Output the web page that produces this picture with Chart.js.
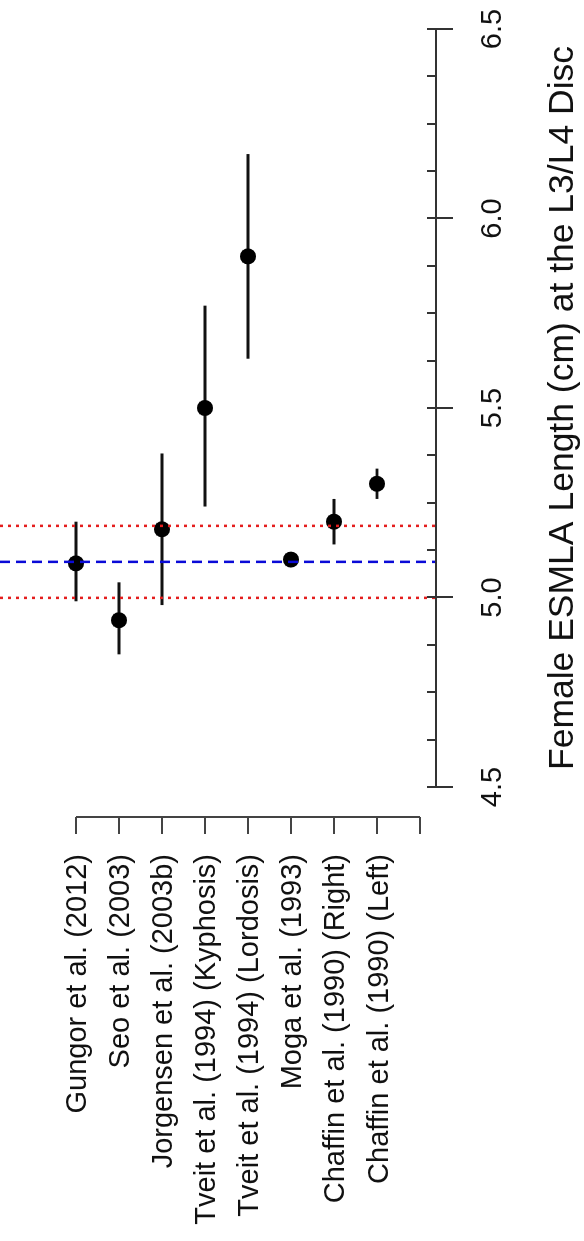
<!DOCTYPE html>
<html>
<head>
<meta charset="utf-8">
<script src="https://cdn.jsdelivr.net/npm/chart.js@4/dist/chart.umd.min.js"></script>
<style>
  html, body { margin: 0; padding: 0; background: #ffffff; overflow: hidden; }
  #wrap { position: relative; width: 584px; height: 1241px; overflow: hidden; background: #ffffff; }
  #c { position: absolute; left: 0; top: 0; width: 1241px; height: 584px;
       transform-origin: 0 0; transform: translate(0px, 1241px) rotate(-90deg); }
</style>
</head>
<body>
<div id="wrap"><canvas id="c" width="1241" height="584"></canvas></div>
<script>
// ---- data ----
const studies = [
  'Gungor et al. (2012)',
  'Seo et al. (2003)',
  'Jorgensen et al. (2003b)',
  'Tveit et al. (1994) (Kyphosis)',
  'Tveit et al. (1994) (Lordosis)',
  'Moga et al. (1993)',
  'Chaffin et al. (1990) (Right)',
  'Chaffin et al. (1990) (Left)'
];
const means = [5.09, 4.94, 5.18, 5.50, 5.90, 5.10, 5.20, 5.30];
const lower = [4.99, 4.85, 4.98, 5.24, 5.63, 5.09, 5.14, 5.26];
const upper = [5.20, 5.04, 5.38, 5.77, 6.17, 5.11, 5.26, 5.34];
const pooledMean = 5.094;
const pooledLower = 4.999;
const pooledUpper = 5.189;
const valueTicks = [4.5, 5.0, 5.5, 6.0, 6.5];
const valueTickLabels = ['4.5', '5.0', '5.5', '6.0', '6.5'];
const minorValueTicks = [4.625, 4.75, 4.875, 5.125, 5.25, 5.375, 5.625, 5.75, 5.875, 6.125, 6.25, 6.375];
const categoryTicks = [1, 2, 3, 4, 5, 6, 7, 8, 9];
const axisTitle = 'Female ESMLA Length (cm) at the L3/L4 Disc';

// ---- scale limits (frame is drawn landscape, then rotated) ----
const X_MIN = 4.4208, X_MAX = 6.5765;
const Y_MIN = -0.767, Y_MAX = 9.372;
const FONT = "'Liberation Sans', Arial, Helvetica, sans-serif";

const errorBarSets = studies.map((s, i) => ({
  label: s + ' CI',
  data: [{x: lower[i], y: i + 1}, {x: upper[i], y: i + 1}],
  showLine: true,
  borderColor: '#111111',
  borderWidth: 2.8,
  pointRadius: 0,
  order: 2
}));

const pointSet = {
  label: 'mean',
  data: means.map((m, i) => ({x: m, y: i + 1})),
  pointRadius: 8,
  pointHoverRadius: 8,
  backgroundColor: '#000000',
  borderWidth: 0,
  showLine: false,
  order: 1
};

function refLine(v, color, dash) {
  return {
    label: 'ref ' + v,
    data: [{x: v, y: Y_MIN}, {x: v, y: Y_MAX}],
    showLine: true,
    borderColor: color,
    borderWidth: 2.5,
    borderDash: dash,
    pointRadius: 0,
    order: 0
  };
}

const rAxes = {
  id: 'rAxes',
  afterDraw(chart) {
    const ctx = chart.ctx, xs = chart.scales.x, ys = chart.scales.y;
    const area = chart.chartArea;
    ctx.save();
    ctx.strokeStyle = '#333333';
    ctx.lineWidth = 2;
    ctx.lineCap = 'butt';
    // value axis (bottom in frame)
    const ay = area.bottom;
    ctx.beginPath();
    ctx.moveTo(xs.getPixelForValue(valueTicks[0]), ay);
    ctx.lineTo(xs.getPixelForValue(valueTicks[valueTicks.length - 1]), ay);
    minorValueTicks.forEach(v => {
      const px = Math.round(xs.getPixelForValue(v));
      ctx.moveTo(px, ay); ctx.lineTo(px, ay - 9);
    });
    valueTicks.forEach(v => {
      const px = Math.round(xs.getPixelForValue(v));
      ctx.moveTo(px, ay - 9); ctx.lineTo(px, ay + 17);
    });
    ctx.stroke();
    ctx.fillStyle = '#111111';
    ctx.font = '29px ' + FONT;
    ctx.textAlign = 'center';
    ctx.textBaseline = 'alphabetic';
    valueTicks.forEach((v, i) => {
      ctx.fillText(valueTickLabels[i], xs.getPixelForValue(v), ay + 65);
    });
    ctx.font = '35.5px ' + FONT;
    ctx.fillText(axisTitle, xs.getPixelForValue((valueTicks[0] + valueTicks[valueTicks.length - 1]) / 2), ay + 137);

    // category axis (left in frame)
    const ax = area.left;
    ctx.strokeStyle = '#444444';
    ctx.beginPath();
    ctx.moveTo(ax, ys.getPixelForValue(categoryTicks[0]));
    ctx.lineTo(ax, ys.getPixelForValue(categoryTicks[categoryTicks.length - 1]));
    categoryTicks.forEach(t => {
      const py = Math.round(ys.getPixelForValue(t));
      ctx.moveTo(ax, py); ctx.lineTo(ax - 17, py);
    });
    ctx.stroke();
    ctx.font = '29px ' + FONT;
    ctx.textAlign = 'right';
    studies.forEach((s, i) => {
      ctx.fillText(s, ax - 37, ys.getPixelForValue(i + 1) + 10.5);
    });
    ctx.restore();
  }
};

new Chart(document.getElementById('c'), {
  type: 'scatter',
  data: {
    datasets: [
      refLine(pooledUpper, 'rgb(228,30,30)', [3, 5]),
      refLine(pooledLower, 'rgb(228,30,30)', [3, 5]),
      refLine(pooledMean, 'rgb(10,10,215)', [10, 6]),
      pointSet
    ].concat(errorBarSets)
  },
  options: {
    responsive: false,
    animation: false,
    devicePixelRatio: 1,
    layout: { autoPadding: false, padding: { left: 424, right: 0, top: 0, bottom: 148 } },
    plugins: { legend: { display: false }, tooltip: { enabled: false }, title: { display: false } },
    scales: {
      x: { type: 'linear', min: X_MIN, max: X_MAX, display: false },
      y: { type: 'linear', min: Y_MIN, max: Y_MAX, reverse: true, display: false }
    }
  },
  plugins: [rAxes]
});
</script>
</body>
</html>
